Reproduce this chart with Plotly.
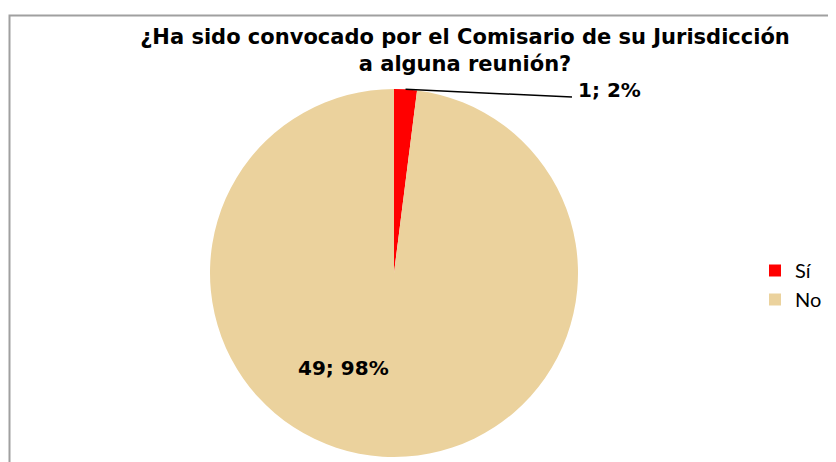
import math
import plotly.graph_objects as go

labels = ["Sí", "No"]
counts = [1, 49]
percents = [2, 98]
colors = ["#FF0000", "#EBD29D"]

# the page body has an 8px margin, so the figure starts at (8, 8)
OFF = 8
W, H = 836 - OFF, 462 - OFF
cx, cy, r = 394, 273, 184   # pie centre / radius in page pixels


def px(x):
    return (x - OFF) / W


def py(y):
    return 1 - (y - OFF) / H


fig = go.Figure()

fig.add_trace(go.Pie(
    labels=labels,
    values=counts,
    sort=False,
    direction="clockwise",
    rotation=0,
    marker=dict(colors=colors, line=dict(width=0)),
    textinfo="none",
    hoverinfo="label+value+percent",
    domain=dict(x=[px(cx - r), px(cx + r)], y=[py(cy + r), py(cy - r)]),
))

# leader line for the small slice, from the middle of its arc
total = sum(counts)
mid = 2 * math.pi * (counts[0] / 2) / total
ex = cx + r * math.sin(mid)
ey = cy - r * math.cos(mid)

fig.add_shape(type="line", xref="paper", yref="paper",
              x0=px(ex), y0=py(ey), x1=px(572), y1=py(97),
              line=dict(color="black", width=1.5))

label_font = dict(family="DejaVu Sans", size=20, color="black")
fig.add_annotation(x=px(576), y=py(90), xref="paper", yref="paper",
                   text=f"<b>{counts[0]}; {percents[0]}%</b>", showarrow=False,
                   xanchor="left", yanchor="middle", font=label_font)
fig.add_annotation(x=px(343), y=py(368), xref="paper", yref="paper",
                   text=f"<b>{counts[1]}; {percents[1]}%</b>", showarrow=False,
                   xanchor="center", yanchor="middle", font=label_font)

# chart frame
fig.add_shape(type="rect", xref="paper", yref="paper",
              x0=px(9.5), y0=-0.2, x1=1.2, y1=py(15.5),
              line=dict(color="#A0A0A0", width=2), fillcolor="rgba(0,0,0,0)")

fig.update_layout(
    width=W, height=H,
    margin=dict(l=0, r=0, t=0, b=0),
    paper_bgcolor="white",
    plot_bgcolor="white",
    title=dict(
        text="<b>¿Ha sido convocado por el Comisario de su Jurisdicción<br>a alguna reunión?</b>",
        x=px(465), xanchor="center",
        y=py(44), yanchor="middle", yref="container",
        font=dict(family="DejaVu Sans", size=21, color="black"),
    ),
    showlegend=True,
    legend=dict(
        x=px(755), y=py(285), xanchor="left", yanchor="middle",
        font=dict(family="Lato", size=20, color="black"),
        bgcolor="rgba(0,0,0,0)",
    ),
)

fig.write_html("out.html")
